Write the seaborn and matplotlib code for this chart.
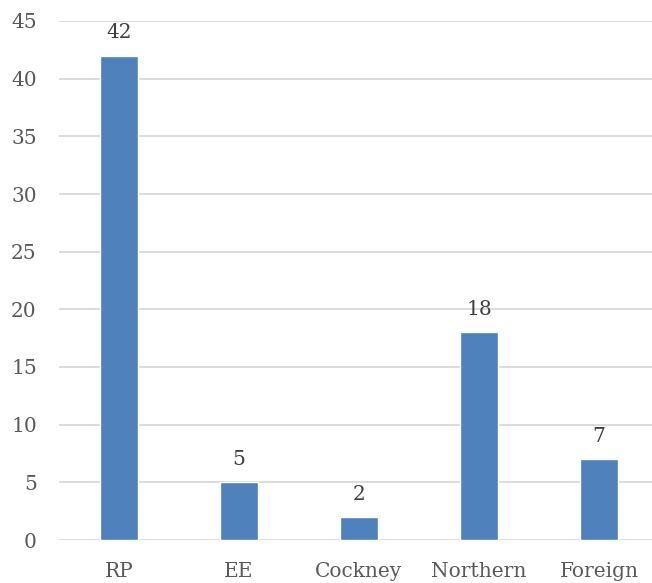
import matplotlib
matplotlib.use("Agg")
import matplotlib.pyplot as plt
import pandas as pd
import seaborn as sns

accents = ["RP", "EE", "Cockney", "Northern", "Foreign"]
counts = [42, 5, 2, 18, 7]
y_ticks = [0, 5, 10, 15, 20, 25, 30, 35, 40, 45]

sns.set_style("white")
plt.rcParams["font.family"] = ["DejaVu Serif"]

df = pd.DataFrame({"accent": accents, "count": counts})

fig = plt.figure(figsize=(6.52, 5.83), dpi=100)
ax = fig.add_axes([59 / 652, 43 / 583, 600 / 652, 519 / 583])

sns.barplot(data=df, x="accent", y="count", color="#4F81BD", saturation=1,
            width=0.31, ax=ax, zorder=3)

# data labels
for i, v in enumerate(counts):
    ax.annotate(str(v), (i, v), xytext=(0, 9.5), textcoords="offset points",
                ha="center", va="bottom", fontsize=14.5, color="#404040")

ax.set_ylim(0, 45)
ax.set_yticks(y_ticks)
ax.yaxis.grid(True, color="#D9D9D9", linewidth=1.3, zorder=0)
ax.set_axisbelow(True)
for s in ax.spines.values():
    s.set_visible(False)
ax.set_xlabel("")
ax.set_ylabel("")
ax.tick_params(axis="both", length=0, labelsize=14.5, labelcolor="#595959")
ax.tick_params(axis="x", pad=16)
ax.tick_params(axis="y", pad=16)

fig.savefig("out.png", dpi=100)
